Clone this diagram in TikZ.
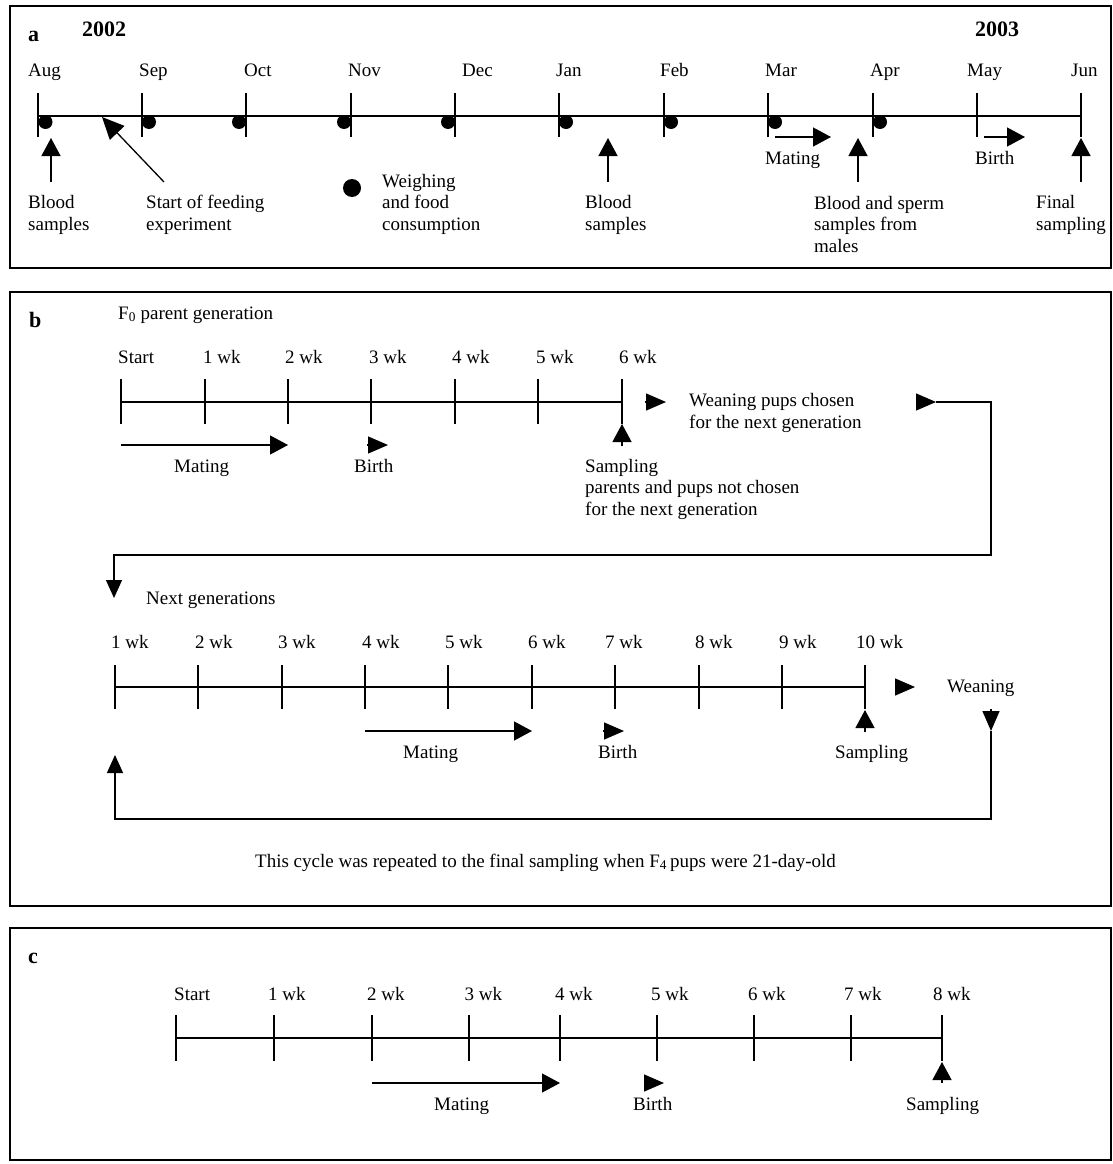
\documentclass[tikz,border=0pt]{standalone}
\usepackage{fontspec}
\setmainfont{Liberation Serif}
\usetikzlibrary{arrows.meta,calc}
\begin{document}
\begin{tikzpicture}[x=1pt,y=-1pt,
  lbl/.style={anchor=base west,inner sep=0pt,font=\fontsize{19}{21.5}\selectfont,align=left},
  boldlbl/.style={anchor=base west,inner sep=0pt,font=\fontsize{22}{24}\selectfont\bfseries},
  frame/.style={line width=1.4pt},
  axisline/.style={line width=2pt},
  tickline/.style={line width=1.4pt},
  arr/.style={line width=1.3pt,-{Triangle[length=18pt,width=19pt]}},
  tri/.style={line width=1.3pt,-{Triangle[length=20pt,width=17pt]}},
  dot/.style={circle,fill=black,inner sep=0pt}
]
\useasboundingbox (0,0) rectangle (1112,1164);

% ---------------- panel a ----------------
\draw[frame] (10,6) rectangle (1111,268);
\node[boldlbl] (la) at (28,42) {a};
\node[boldlbl] (y2002) at (82,37) {2002};
\node[boldlbl] (y2003) at (975,37) {2003};

\foreach \x/\lx/\m [count=\i] in {38/28/Aug,142/139/Sep,246/244/Oct,351/348/Nov,455/462/Dec,559/556/Jan,664/660/Feb,768/765/Mar,873/870/Apr,977/967/May,1081/1071/Jun}{
  \coordinate (ma\i) at (\x,116);
  \draw[tickline] (\x,93) -- (\x,137);
  \node[lbl] (mlab\i) at (\lx,77) {\m};
}
\draw[axisline] (ma1) -- (ma11);

\foreach \x [count=\i] in {45.5,149,239,344,448,566,671,775,880}{
  \node[dot,minimum size=14pt] (wd\i) at (\x,122) {};
}

\coordinate (bAs) at (51,182); \coordinate (bAe) at (51,138);
\draw[arr] (bAs) -- (bAe);
\node[lbl] (bloodA) at (28,230) {Blood\\samples};

\coordinate (sfs) at (164,182); \coordinate (sfe) at (102,117);
\draw[line width=1.3pt,-{Triangle[length=22pt,width=20pt]}] (sfs) -- (sfe);
\node[lbl] (startfeed) at (146,230) {Start of feeding\\experiment};

\node[dot,minimum size=18pt] (legdot) at (352,188) {};
\node[lbl] (weigh) at (382,230) {Weighing\\and food\\consumption};

\coordinate (bJs) at (608,182); \coordinate (bJe) at (608,138);
\draw[arr] (bJs) -- (bJe);
\node[lbl] (bloodJ) at (585,230) {Blood\\samples};

\coordinate (mts) at (775,137); \coordinate (mte) at (831,137);
\draw[arr] (mts) -- (mte);
\node[lbl] (matingA) at (765,164) {Mating};

\coordinate (bsS) at (858,182); \coordinate (bsE) at (858,138);
\draw[arr] (bsS) -- (bsE);
\node[lbl] (bloodsperm) at (814,252) {Blood and sperm\\samples from\\males};

\coordinate (brs) at (984,137); \coordinate (bre) at (1025,137);
\draw[arr] (brs) -- (bre);
\node[lbl] (birthA) at (975,164) {Birth};

\coordinate (fss) at (1081,182); \coordinate (fse) at (1081,138);
\draw[arr] (fss) -- (fse);
\node[lbl] (finalA) at (1036,230) {Final\\sampling};

% ---------------- panel b ----------------
\draw[frame] (10,292) rectangle (1111,906);
\node[boldlbl] (lb) at (29,327) {b};
\node[lbl] (f0) at (118,319) {F\textsubscript{0} parent generation};

\foreach \x/\lx/\w [count=\i] in {121/118/Start,205/203/1 wk,288/285/2 wk,371/369/3 wk,455/452/4 wk,538/536/5 wk,622/619/6 wk}{
  \coordinate (pb\i) at (\x,402);
  \draw[tickline] (\x,379) -- (\x,424);
  \node[lbl] (pblab\i) at (\lx,363) {\w};
}
\draw[axisline] (pb1) -- (pb7);

\coordinate (bms) at (121,445); \coordinate (bme) at (288,445);
\draw[arr] (bms) -- (bme);
\node[lbl] (matingB) at (174,472) {Mating};
\coordinate (bbs) at (367,445); \coordinate (bbe) at (388,445);
\draw[tri] (bbs) -- (bbe);
\node[lbl] (birthB) at (354,472) {Birth};
\coordinate (bss) at (622,446); \coordinate (bse) at (622,424);
\draw[arr] (bss) -- (bse);
\node[lbl] (samplingB) at (585,515) {Sampling\\parents and pups not chosen\\for the next generation};
\coordinate (bws) at (645,402); \coordinate (bwe) at (666,402);
\draw[tri] (bws) -- (bwe);
\node[lbl] (weanB) at (689,428) {Weaning pups chosen\\for the next generation};

\coordinate (l1a) at (916,402); \coordinate (l1b) at (936,402);
\coordinate (l1c) at (991,402); \coordinate (l1d) at (991,555);
\coordinate (l1e) at (114,555); \coordinate (l1f) at (114,598);
\draw[tri] (l1a) -- (l1b);
\draw[line width=1.3pt,-{Triangle[length=18pt,width=16pt]}] (l1b) -- (l1c) -- (l1d) -- (l1e) -- (l1f);
\node[lbl] (nextgen) at (146,604) {Next generations};

\foreach \x/\lx/\w [count=\i] in {115/111/1 wk,198/195/2 wk,282/278/3 wk,365/362/4 wk,448/445/5 wk,532/528/6 wk,615/605/7 wk,699/695/8 wk,782/779/9 wk,865/856/10 wk}{
  \coordinate (nb\i) at (\x,687);
  \draw[tickline] (\x,665) -- (\x,709);
  \node[lbl] (nblab\i) at (\lx,648) {\w};
}
\draw[axisline] (nb1) -- (nb10);

\coordinate (nws) at (895,687); \coordinate (nwe) at (915,687);
\draw[tri] (nws) -- (nwe);
\node[lbl] (weanN) at (947,692) {Weaning};
\coordinate (nss) at (865,732); \coordinate (nse) at (865,710);
\draw[arr] (nss) -- (nse);
\coordinate (nms) at (365,731); \coordinate (nme) at (532,731);
\draw[arr] (nms) -- (nme);
\coordinate (nbs) at (603,731); \coordinate (nbe) at (624,731);
\draw[tri] (nbs) -- (nbe);
\node[lbl] (matingN) at (403,758) {Mating};
\node[lbl] (birthN) at (598,758) {Birth};
\node[lbl] (samplingN) at (835,758) {Sampling};

\coordinate (l2a) at (991,709); \coordinate (l2b) at (991,731);
\coordinate (l2c) at (991,819); \coordinate (l2d) at (115,819);
\coordinate (l2e) at (115,755);
\draw[tri] (l2a) -- (l2b);
\draw[line width=1.3pt,-{Triangle[length=18pt,width=16pt]}] (l2b) -- (l2c) -- (l2d) -- (l2e);

\node[lbl] (cycle) at (255,867) {This cycle was repeated to the final sampling when F\textsubscript{4}\,pups were 21-day-old};

% ---------------- panel c ----------------
\draw[frame] (10,928) rectangle (1111,1160);
\node[boldlbl] (lc) at (28,963) {c};

\foreach \x/\lx/\w [count=\i] in {176/174/Start,274/268/1 wk,372/367/2 wk,469/464.5/3 wk,560/555/4 wk,657/651/5 wk,754/748/6 wk,851/844/7 wk,942/933/8 wk}{
  \coordinate (pc\i) at (\x,1038);
  \draw[tickline] (\x,1015) -- (\x,1061);
  \node[lbl] (pclab\i) at (\lx,1000) {\w};
}
\draw[axisline] (pc1) -- (pc9);

\coordinate (cms) at (372,1083); \coordinate (cme) at (560,1083);
\draw[arr] (cms) -- (cme);
\coordinate (cbs) at (644,1083); \coordinate (cbe) at (664,1083);
\draw[tri] (cbs) -- (cbe);
\coordinate (css) at (942,1083); \coordinate (cse) at (942,1062);
\draw[arr] (css) -- (cse);
\node[lbl] (matingC) at (434,1110) {Mating};
\node[lbl] (birthC) at (633,1110) {Birth};
\node[lbl] (samplingC) at (906,1110) {Sampling};
\end{tikzpicture}
\end{document}
